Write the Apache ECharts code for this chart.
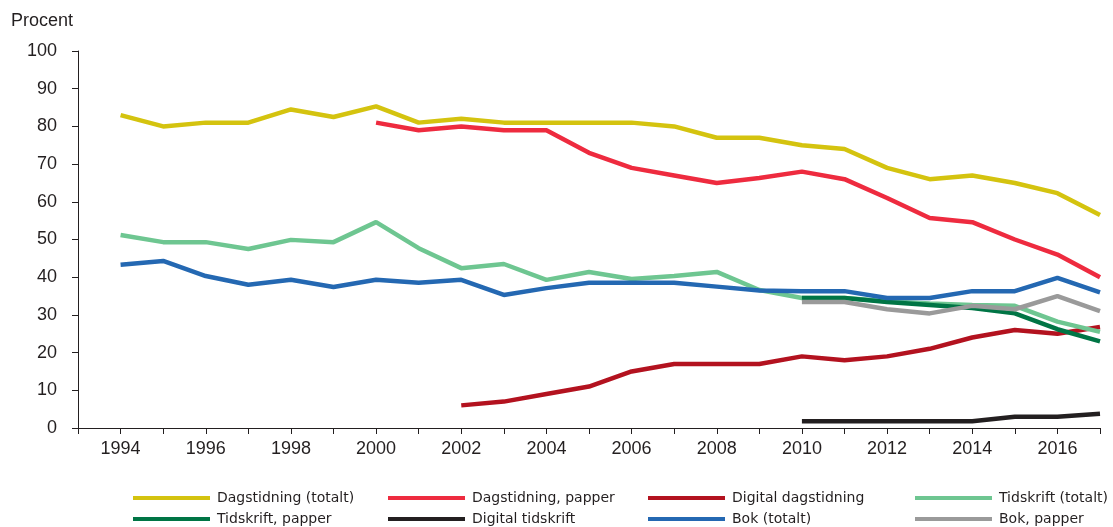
<!DOCTYPE html>
<html><head><meta charset="utf-8">
<script src="https://cdn.jsdelivr.net/npm/echarts@6/dist/echarts.min.js"></script>
<style>html,body{margin:0;padding:0;background:#fff}#c{width:1113px;height:527px}</style>
</head><body><div id="c"></div>
<script>
const years = [1994,1995,1996,1997,1998,1999,2000,2001,2002,2003,2004,2005,2006,2007,2008,2009,2010,2011,2012,2013,2014,2015,2016,2017];
const dagTotalt = [83,80,81,81,84.5,82.5,85.3,81,82,81,81,81,81,80,77,77,75,74,69,66,67,65,62.3,56.5];
const dagPapper = [null,null,null,null,null,null,81,79,80,79,79,73,69,67,65,66.3,68,66,61,55.7,54.6,50,46,40];
const digDag = [null,null,null,null,null,null,null,null,6,7,9,11,15,17,17,17,19,18,19,21,24,26,25,26.8];
const tidTotalt = [51.2,49.3,49.3,47.5,49.9,49.3,54.6,47.7,42.4,43.5,39.3,41.4,39.5,40.3,41.4,36.6,34.5,34.5,33.6,33,32.6,32.4,28.2,25.5];
const tidPapper = [null,null,null,null,null,null,null,null,null,null,null,null,null,null,null,null,34.5,34.5,33.4,32.6,31.8,30.4,26.2,23];
const digTid = [null,null,null,null,null,null,null,null,null,null,null,null,null,null,null,null,1.8,1.8,1.8,1.8,1.8,3,3,3.8];
const bokTotalt = [43.3,44.3,40.3,38,39.3,37.4,39.3,38.5,39.3,35.3,37.1,38.5,38.5,38.5,37.5,36.5,36.3,36.3,34.5,34.5,36.3,36.3,39.8,36];
const bokPapper = [null,null,null,null,null,null,null,null,null,null,null,null,null,null,null,null,33.4,33.4,31.5,30.4,32.4,31.5,35,31];
const yTicks = [0,10,20,30,40,50,60,70,80,90,100];

const seriesDefs = [
  {name:'Dagstidning (totalt)', data:dagTotalt, color:'#D4C30F'},
  {name:'Dagstidning, papper', data:dagPapper, color:'#EE2B3F'},
  {name:'Digital dagstidning', data:digDag, color:'#B3121F'},
  {name:'Tidskrift (totalt)', data:tidTotalt, color:'#6EC691'},
  {name:'Tidskrift, papper', data:tidPapper, color:'#007545'},
  {name:'Digital tidskrift', data:digTid, color:'#231F20'},
  {name:'Bok (totalt)', data:bokTotalt, color:'#2468B2'},
  {name:'Bok, papper', data:bokPapper, color:'#9A9A9A'}
];
const legendLeft = [128, 383, 643, 910];
const legendTop = [486, 507];

const chart = echarts.init(document.getElementById('c'));
chart.setOption({
  animation:false,
  textStyle:{fontFamily:'Liberation Sans, Arial, sans-serif'},
  grid:{left:78,right:13,top:51,bottom:99,containLabel:false},
  title:{text:'Procent',left:6,top:7,textStyle:{fontSize:18,fontWeight:'normal',color:'#231F20',fontFamily:'Liberation Sans, Arial, sans-serif'}},
  legend: seriesDefs.map((s,i)=>({
    data:[s.name], left:legendLeft[i%4], top:legendTop[Math.floor(i/4)],
    icon:'rect', itemWidth:77, itemHeight:4, itemGap:10,
    textStyle:{fontSize:14,color:'#231F20',fontFamily:'DejaVu Sans, sans-serif',padding:[0,0,0,2]},
    selectedMode:false
  })),
  xAxis:{type:'value',min:1993,max:2017,interval:1,
    axisLine:{lineStyle:{color:'#231F20',width:1}},
    axisTick:{show:true,length:6,lineStyle:{color:'#231F20'}},
    splitLine:{show:false},
    axisLabel:{color:'#231F20',fontSize:18,margin:12,
      formatter:v=> (v%2===0 && years.indexOf(v)>=0) ? String(v) : ''}
  },
  yAxis:{type:'value',min:yTicks[0],max:yTicks[yTicks.length-1],interval:10,
    axisLine:{show:true,lineStyle:{color:'#231F20',width:1}},
    axisTick:{show:true,length:6,lineStyle:{color:'#231F20'}},
    splitLine:{show:false},
    axisLabel:{color:'#231F20',fontSize:18,margin:21}
  },
  series: seriesDefs.map(s=>({
    name:s.name,type:'line',showSymbol:false,symbol:'none',connectNulls:false,
    color:s.color,lineStyle:{width:4.5,color:s.color},
    data:years.map((y,i)=>[y,s.data[i]])
  }))
});
</script></body></html>
